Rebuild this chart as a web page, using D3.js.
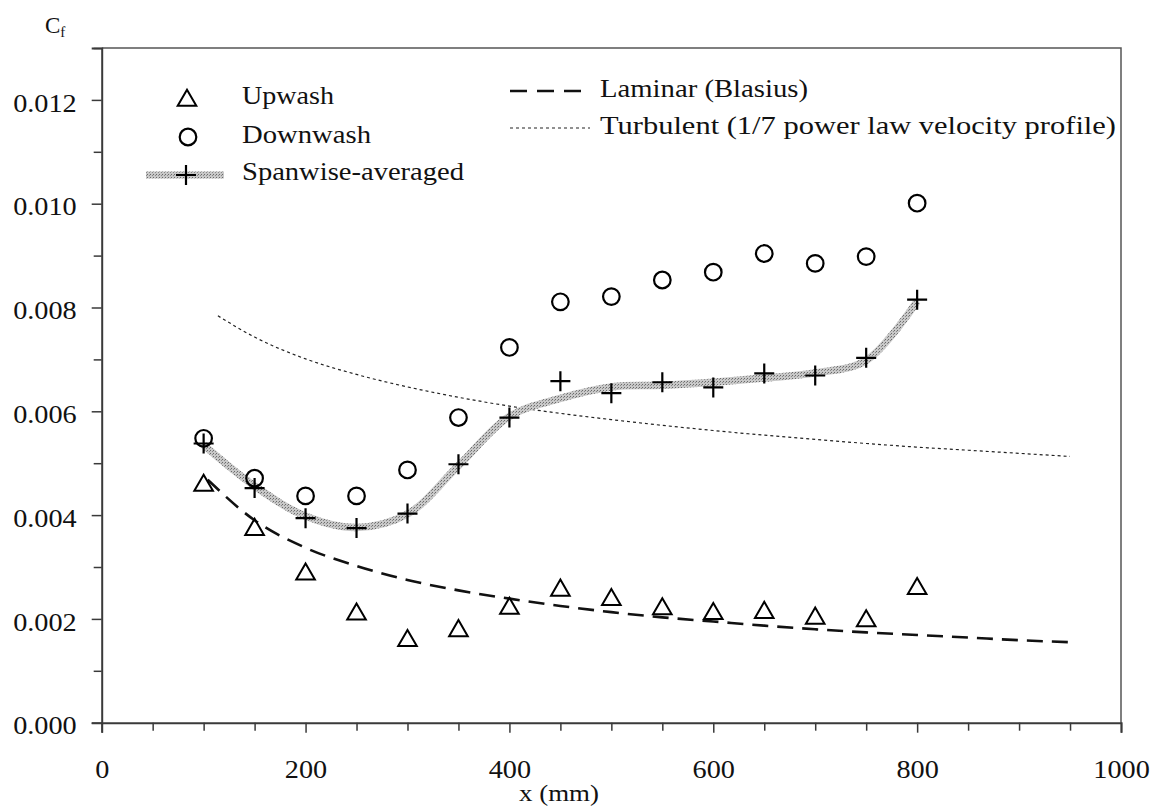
<!DOCTYPE html>
<html>
<head>
<meta charset="utf-8">
<script src="https://cdn.jsdelivr.net/npm/d3@7"></script>
<style>
  body { margin: 0; background: #fff; }
  svg text { font-family: "Liberation Serif", "Times New Roman", Times, "Nimbus Roman", "DejaVu Serif", serif; fill: #111; }
</style>
</head>
<body>
<div class="chart"></div>
<script>
// x positions (mm)
const stations = [100, 150, 200, 250, 300, 350, 400, 450, 500, 550, 600, 650, 700, 750, 800];
// Cf values
const upwash = [0.00460, 0.00375, 0.00289, 0.00212, 0.00161, 0.00180, 0.00223, 0.00258, 0.00240, 0.00222, 0.00213, 0.00215, 0.00204, 0.00199, 0.00261];
const downwash = [0.00548, 0.00471, 0.00437, 0.00437, 0.00487, 0.00588, 0.00723, 0.00811, 0.00821, 0.00853, 0.00868, 0.00904, 0.00885, 0.00898, 0.01001];
const spanwise = [0.00538, 0.00452, 0.00394, 0.00375, 0.00403, 0.00498, 0.00588, 0.00658, 0.00635, 0.00656, 0.00646, 0.00673, 0.00669, 0.00703, 0.00815];
// smoothed grey band through the spanwise-averaged data
const spanBand = [0.00535, 0.00456, 0.00398, 0.00376, 0.00402, 0.00495, 0.00590, 0.00625, 0.00647, 0.00650, 0.00656, 0.00664, 0.00674, 0.00698, 0.00812];

// reference curves
const laminarX = [104, 150, 200, 250, 300, 350, 400, 450, 500, 550, 600, 650, 700, 750, 800, 850, 900, 950];
const laminarCf = [0.00468, 0.00390, 0.00337, 0.00302, 0.00275, 0.00255, 0.00239, 0.00225, 0.00213, 0.00203, 0.00195, 0.00187, 0.00180, 0.00174, 0.00169, 0.00164, 0.00159, 0.00155];
const turbX = [114, 150, 200, 250, 300, 350, 400, 450, 500, 550, 600, 650, 700, 750, 800, 850, 900, 950];
const turbCf = [0.00784, 0.00743, 0.00701, 0.00671, 0.00647, 0.00627, 0.00610, 0.00596, 0.00584, 0.00573, 0.00563, 0.00554, 0.00546, 0.00538, 0.00531, 0.00525, 0.00519, 0.00513];

const xTicks = d3.range(0, 1001, 50);
const yTicks = d3.range(0, 14).map(i => i * 0.001);

const serif = "'Liberation Serif', 'Times New Roman', Times, 'Nimbus Roman', 'DejaVu Serif', serif";

const W = 1153, H = 807;
const svg = d3.select(".chart").append("svg")
    .attr("width", W)
    .attr("height", H)
    .attr("font-family", serif);

// the original type is a bit wider than Liberation Serif
function stretch(sel, f) {
    sel.each(function() {
        const w = this.getComputedTextLength();
        if (w > 0) d3.select(this).attr("textLength", w * f).attr("lengthAdjust", "spacingAndGlyphs");
    });
}

const defs = svg.append("defs");
const pat = defs.append("pattern")
    .attr("id", "stipple")
    .attr("patternUnits", "userSpaceOnUse")
    .attr("width", 3).attr("height", 3);
pat.append("rect").attr("width", 3).attr("height", 3).attr("fill", "#c8c8c8");
pat.append("rect").attr("width", 1).attr("height", 1).attr("fill", "#6a6a6a");
pat.append("rect").attr("x", 2).attr("y", 1).attr("width", 1).attr("height", 1).attr("fill", "#8a8a8a");

const x = d3.scaleLinear().domain([0, 1000]).range([101.7, 1121]);
const y = d3.scaleLinear().domain([0, 0.013]).range([722.7, 48]);

const axisColor = "#3a3a3a";

// frame (top and right)
svg.append("path")
    .attr("d", `M${x(0)},${y(0.013)}H${x(1000)}V${y(0)}`)
    .attr("fill", "none")
    .attr("stroke", "#555")
    .attr("stroke-width", 1.5);

// x axis
const xAxis = svg.append("g")
    .attr("transform", `translate(0,${y(0)})`)
    .call(d3.axisBottom(x)
        .tickValues(xTicks)
        .tickSizeOuter(0)
        .tickSize(10)
        .tickPadding(28)
        .tickFormat(d => d % 200 === 0 ? d : ""));
xAxis.selectAll(".tick line")
    .attr("y2", d => d % 200 === 0 ? 10 : 8);

// y axis
const yAxis = svg.append("g")
    .attr("transform", `translate(${x(0)},0)`)
    .call(d3.axisLeft(y)
        .tickValues(yTicks)
        .tickSizeOuter(0)
        .tickSize(10)
        .tickPadding(15)
        .tickFormat((d, i) => i % 2 === 0 && i < 13 ? d3.format(".3f")(d) : ""));
yAxis.selectAll(".tick line")
    .attr("x2", (d, i) => i % 2 === 0 && i < 13 ? -10 : -8);
yAxis.selectAll(".tick text").attr("dy", "0.45em");

[xAxis, yAxis].forEach(g => {
    g.attr("font-family", serif);
    g.select(".domain").attr("stroke", axisColor).attr("stroke-width", 2);
    g.selectAll(".tick line").attr("stroke", axisColor).attr("stroke-width", 1.5);
    g.selectAll(".tick text")
        .style("font-size", "25px")
        .attr("fill", "#111")
        .call(stretch, 1.13);
});

// axis titles
const cf = svg.append("text")
    .attr("x", 45).attr("y", 33)
    .style("font-size", "23px");
cf.append("tspan").text("C");
cf.append("tspan").attr("dy", 4).style("font-size", "15px").text("f");

svg.append("text")
    .attr("x", 559)
    .attr("y", 801)
    .attr("text-anchor", "middle")
    .style("font-size", "24px")
    .text("x (mm)")
    .call(stretch, 1.12);

// reference lines
const line = d3.line()
    .x(d => x(d[0]))
    .y(d => y(d[1]))
    .curve(d3.curveMonotoneX);

svg.append("path")
    .datum(turbX.map((v, i) => [v, turbCf[i]]))
    .attr("d", line)
    .attr("fill", "none")
    .attr("stroke", "#222")
    .attr("stroke-width", 1.2)
    .attr("stroke-dasharray", "3,3");

svg.append("path")
    .datum(laminarX.map((v, i) => [v, laminarCf[i]]))
    .attr("d", line)
    .attr("fill", "none")
    .attr("stroke", "#111")
    .attr("stroke-width", 2.6)
    .attr("stroke-dasharray", "16,9");

// spanwise-averaged band
svg.append("path")
    .datum(stations.map((v, i) => [v, spanBand[i]]))
    .attr("d", line.curve(d3.curveCatmullRom.alpha(0.5)))
    .attr("fill", "none")
    .attr("stroke", "url(#stipple)")
    .attr("stroke-width", 7.5);

// markers
const triSym = d3.symbol().type(d3.symbolTriangle).size(150);
const plus = "M-10,0H10M0,-10V10";

function drawTriangle(g, cx, cy) {
    g.append("path")
        .attr("transform", `translate(${cx},${cy + 1.5})`)
        .attr("d", triSym())
        .attr("fill", "none")
        .attr("stroke", "#000")
        .attr("stroke-width", 2);
}
function drawCircle(g, cx, cy) {
    g.append("circle")
        .attr("cx", cx).attr("cy", cy).attr("r", 8.3)
        .attr("fill", "none")
        .attr("stroke", "#000")
        .attr("stroke-width", 2.2);
}
function drawPlus(g, cx, cy) {
    g.append("path")
        .attr("transform", `translate(${cx},${cy})`)
        .attr("d", plus)
        .attr("fill", "none")
        .attr("stroke", "#000")
        .attr("stroke-width", 2.2);
}

const marks = svg.append("g");
stations.forEach((s, i) => {
    drawTriangle(marks, x(s), y(upwash[i]));
    drawCircle(marks, x(s), y(downwash[i]));
    drawPlus(marks, x(s), y(spanwise[i]));
});

// legend
const legend = svg.append("g");
const legendFont = "25px";
function legendText(tx, ty, label, width) {
    legend.append("text")
        .attr("x", tx).attr("y", ty)
        .style("font-size", legendFont)
        .attr("textLength", width)
        .attr("lengthAdjust", "spacingAndGlyphs")
        .text(label);
}
drawTriangle(legend, 187, 99);
legendText(242, 104, "Upwash", 92);
drawCircle(legend, 188, 137);
legendText(242, 143, "Downwash", 129);
legend.append("line")
    .attr("x1", 146).attr("x2", 224).attr("y1", 175).attr("y2", 175)
    .attr("stroke", "url(#stipple)").attr("stroke-width", 7);
drawPlus(legend, 186, 175);
legendText(242, 180, "Spanwise-averaged", 222);

legend.append("line")
    .attr("x1", 510).attr("x2", 582).attr("y1", 91).attr("y2", 91)
    .attr("stroke", "#111").attr("stroke-width", 2.6)
    .attr("stroke-dasharray", "17,10");
legendText(600, 97, "Laminar (Blasius)", 208);
legend.append("line")
    .attr("x1", 510).attr("x2", 590).attr("y1", 128).attr("y2", 128)
    .attr("stroke", "#222").attr("stroke-width", 1.2)
    .attr("stroke-dasharray", "3,3");
legendText(600, 134, "Turbulent (1/7 power law velocity profile)", 516);
</script>
</body>
</html>
